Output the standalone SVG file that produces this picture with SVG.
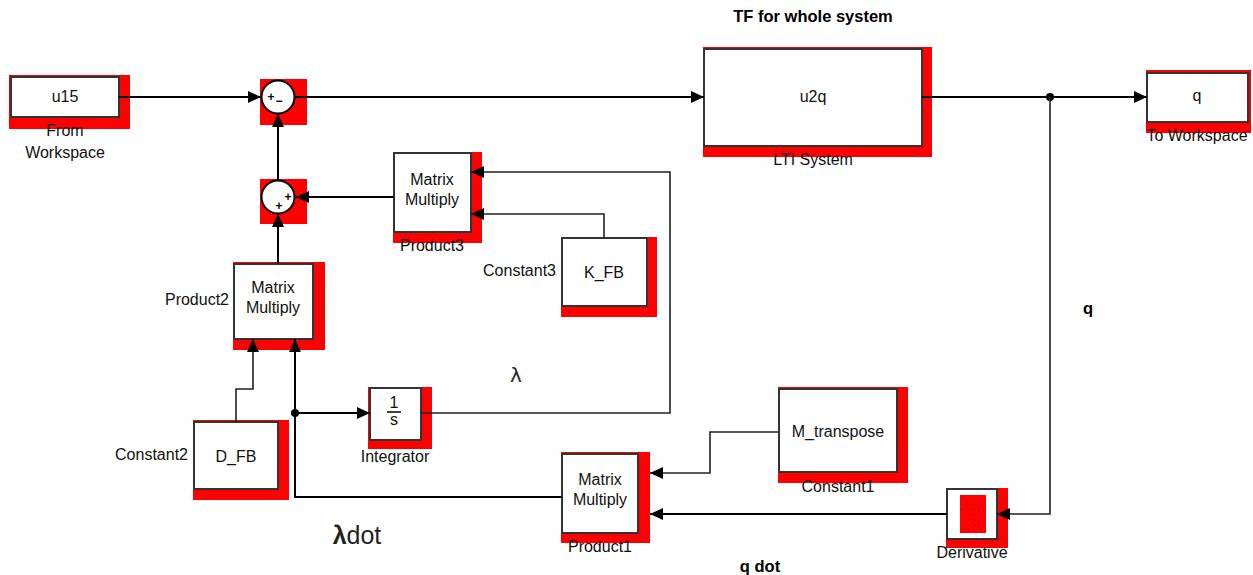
<svg xmlns="http://www.w3.org/2000/svg" width="1253" height="575" viewBox="0 0 1253 575">
<style>
.sh{fill:#ff0000}
.bx{fill:#fff;stroke:#333;stroke-width:2}
.t{font-family:"Liberation Sans",Arial,sans-serif;font-size:16px;fill:#111;text-anchor:middle}
.lb{font-family:"Liberation Sans",Arial,sans-serif;font-size:16px;fill:#111;text-anchor:middle}
.lr{font-family:"Liberation Sans",Arial,sans-serif;font-size:16px;fill:#111;text-anchor:end}
.b{font-family:"Liberation Sans",Arial,sans-serif;font-size:16.5px;font-weight:bold;fill:#000;text-anchor:middle}
.sg{font-family:"Liberation Sans",Arial,sans-serif;font-size:12px;font-weight:bold;fill:#000;text-anchor:middle}
.w{fill:none;stroke:#000;stroke-width:2}
.n{fill:none;stroke:#222;stroke-width:1.6}
</style>
<defs>
<marker id="a" markerWidth="13" markerHeight="12" refX="13" refY="6" orient="auto" markerUnits="userSpaceOnUse"><path d="M0,0 L13,6 L0,12 z" fill="#000"/></marker>
</defs>
<text class="b" x="813" y="22">TF for whole system</text>
<g id="fromWorkspace">
<rect class="sh" x="9" y="75" width="121" height="54"/>
<rect class="bx" x="11" y="77" width="108" height="40"/>
<text class="t" x="65" y="102">u15</text>
<text class="lb" x="65" y="136">From</text>
<text class="lb" x="65" y="158">Workspace</text>
</g>
<g id="sum1">
<rect class="sh" x="260" y="79" width="47" height="46"/>
<circle cx="278" cy="97" r="16.5" fill="#fff" stroke="#000" stroke-width="2"/>
<text class="sg" x="271" y="101">+</text>
<text class="sg" x="279" y="105">−</text>
</g>
<g id="sum2">
<rect class="sh" x="260" y="179" width="47" height="45"/>
<circle cx="278" cy="197" r="16.5" fill="#fff" stroke="#000" stroke-width="2"/>
<text class="sg" x="288" y="201">+</text>
<text class="sg" x="279" y="210">+</text>
</g>
<g id="product3">
<rect class="sh" x="393" y="152" width="89" height="91"/>
<rect class="bx" x="394" y="153" width="77" height="79"/>
<text class="t" x="432" y="185">Matrix</text>
<text class="t" x="432" y="205">Multiply</text>
<text class="lb" x="432" y="251">Product3</text>
</g>
<g id="constant3">
<rect class="sh" x="561" y="237" width="96" height="80"/>
<rect class="bx" x="562" y="238" width="85" height="68"/>
<text class="t" x="604" y="278">K_FB</text>
<text class="lr" x="556" y="276">Constant3</text>
</g>
<g id="product2">
<rect class="sh" x="233" y="262" width="92" height="88"/>
<rect class="bx" x="234" y="264" width="79" height="75"/>
<text class="t" x="273" y="293">Matrix</text>
<text class="t" x="273" y="313">Multiply</text>
<text class="lr" x="229" y="305">Product2</text>
</g>
<g id="constant2">
<rect class="sh" x="193" y="420" width="96" height="80"/>
<rect class="bx" x="194" y="422" width="84" height="67"/>
<text class="t" x="236" y="462">D_FB</text>
<text class="lr" x="188" y="460">Constant2</text>
</g>
<g id="integrator">
<rect class="sh" x="368" y="387" width="64" height="62"/>
<rect class="bx" x="370" y="388" width="51" height="52"/>
<text class="t" x="394" y="408">1</text>
<line x1="387" y1="412" x2="401" y2="412" stroke="#000" stroke-width="1.5"/>
<text class="t" x="394" y="425">s</text>
<text class="lb" x="395" y="462">Integrator</text>
</g>
<g id="lti">
<rect class="sh" x="703" y="47" width="229" height="110"/>
<rect class="bx" x="704" y="49" width="218" height="97"/>
<text class="t" x="813" y="102">u2q</text>
<text class="lb" x="813" y="165">LTI System</text>
</g>
<g id="toWorkspace">
<rect class="sh" x="1146" y="70" width="105" height="63"/>
<rect class="bx" x="1147" y="73" width="101" height="49"/>
<text class="t" x="1197" y="101">q</text>
<text class="lb" x="1197" y="141">To Workspace</text>
</g>
<g id="constant1">
<rect class="sh" x="778" y="387" width="130" height="96"/>
<rect class="bx" x="779" y="389" width="118" height="83"/>
<text class="t" x="838" y="437">M_transpose</text>
<text class="lb" x="838" y="492">Constant1</text>
</g>
<g id="product1">
<rect class="sh" x="561" y="452" width="89" height="91"/>
<rect class="bx" x="562" y="454" width="76" height="79"/>
<text class="t" x="600" y="485">Matrix</text>
<text class="t" x="600" y="505">Multiply</text>
<text class="lb" x="600" y="552">Product1</text>
</g>
<g id="derivative">
<rect class="sh" x="946" y="488" width="62" height="60"/>
<rect class="bx" x="947" y="489" width="50" height="50"/>
<rect x="960" y="495" width="26" height="38" fill="#ff0000"/>
<g fill="#000">
<rect x="967" y="502" width="1" height="1"/><rect x="972" y="502" width="1" height="1"/><rect x="977" y="503" width="1" height="1"/>
<rect x="964" y="509" width="1" height="1"/><rect x="970" y="509" width="1" height="1"/><rect x="978" y="510" width="1" height="1"/>
<rect x="973" y="519" width="1" height="1"/><rect x="975" y="525" width="1" height="1"/><rect x="968" y="528" width="1" height="1"/>
</g>
<text class="lb" x="972" y="558">Derivative</text>
</g>
<g id="connectors">
<path class="w" d="M119,97 H261" marker-end="url(#a)"/>
<path class="w" d="M295,97 H704" marker-end="url(#a)"/>
<path class="w" d="M922,97 H1147" marker-end="url(#a)"/>
<circle cx="1050" cy="97" r="4" fill="#000"/>
<path class="n" d="M1050,97 V514 H997" marker-end="url(#a)"/>
<path class="w" d="M947,514 H650" marker-end="url(#a)"/>
<path class="n" d="M779,432 H710 V473 H650" marker-end="url(#a)"/>
<path class="w" d="M562,497 H295 V339" marker-end="url(#a)"/>
<circle cx="295" cy="413" r="4" fill="#000"/>
<path class="w" d="M295,413 H370" marker-end="url(#a)"/>
<path class="n" d="M421,413 H670 V172 H471" marker-end="url(#a)"/>
<path class="n" d="M604,238 V214 H471" marker-end="url(#a)"/>
<path class="w" d="M394,197 H296" marker-end="url(#a)"/>
<path class="n" d="M236,422 V389 H253 V339" marker-end="url(#a)"/>
<path class="w" d="M278,264 V214" marker-end="url(#a)"/>
<path class="w" d="M278,180 V114" marker-end="url(#a)"/>
</g>
<text x="516" y="382" font-family="'DejaVu Sans',sans-serif" font-size="20" fill="#222" text-anchor="middle">λ</text>
<text x="357" y="544" font-family="'Liberation Sans','DejaVu Sans',sans-serif" font-size="25" fill="#222" text-anchor="middle"><tspan font-weight="bold">λ</tspan>dot</text>
<text class="b" x="1088" y="314">q</text>
<text class="b" x="760" y="572">q dot</text>
</svg>
